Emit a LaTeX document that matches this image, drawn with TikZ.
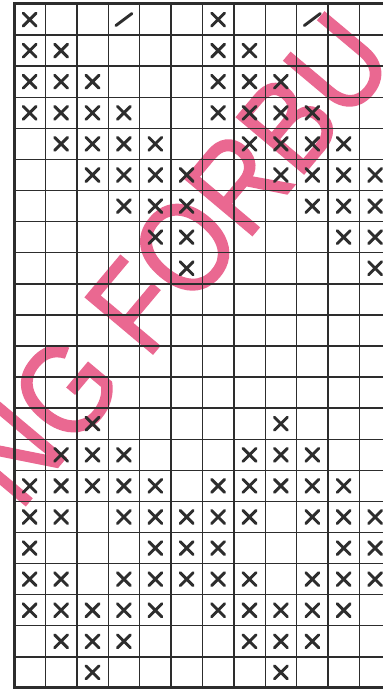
\documentclass[tikz,border=0pt]{standalone}
\usepackage{fontspec}
\newfontfamily\wmfont{Liberation Sans}[FakeStretch=0.87,FakeBold=1.2]
\definecolor{wmpink}{RGB}{234,104,145}
\definecolor{ink}{RGB}{45,45,45}
\begin{document}
\begin{tikzpicture}[x=1pt,y=1pt,
  gridline/.style={draw=ink, line width=1.4pt},
  border/.style={draw=ink, line width=3pt, line cap=rect},
  xmark/.style={draw=ink, line width=2.9pt, line cap=round},
  slashmark/.style={draw=ink, line width=2.9pt, line cap=round},
  watermark/.style={text=wmpink, font=\wmfont\fontsize{128}{128}\selectfont, rotate=50, inner sep=0pt}]
\useasboundingbox (0,0) rectangle (383,692);
\fill[white] (0,0) rectangle (383,692);
\begin{scope}
  \clip (0,0) rectangle (383,692);
  \node[watermark] (wm) at (175,433) {NG FORBU};
\end{scope}
\begin{scope}[shift={(14pt,688pt)}, x=31.4pt, y=-31.09pt]
  \clip (-1,-1) rectangle (11.75,23);
  \foreach \i in {1,...,11} \draw[gridline] (\i,0) -- (\i,22);
  \foreach \j in {1,...,21} \draw[gridline] (0,\j) -- (12,\j);
  \draw[border] (12,0) -- (0,0) -- (0,22) -- (12,22);
  % X marks: column/row
  \foreach \c/\r in {0/0,6/0,
      0/1,1/1,6/1,7/1,
      0/2,1/2,2/2,6/2,7/2,8/2,
      0/3,1/3,2/3,3/3,6/3,7/3,8/3,9/3,
      1/4,2/4,3/4,4/4,7/4,8/4,9/4,10/4,
      2/5,3/5,4/5,5/5,8/5,9/5,10/5,11/5,
      3/6,4/6,5/6,9/6,10/6,11/6,
      4/7,5/7,10/7,11/7,
      5/8,11/8,
      2/13,8/13,
      1/14,2/14,3/14,7/14,8/14,9/14,
      0/15,1/15,2/15,3/15,4/15,6/15,7/15,8/15,9/15,10/15,
      0/16,1/16,3/16,4/16,5/16,6/16,7/16,9/16,10/16,11/16,
      0/17,4/17,5/17,6/17,10/17,11/17,
      0/18,1/18,3/18,4/18,5/18,6/18,7/18,9/18,10/18,11/18,
      0/19,1/19,2/19,3/19,4/19,6/19,7/19,8/19,9/19,10/19,
      1/20,2/20,3/20,7/20,8/20,9/20,
      2/21,8/21}
    \draw[xmark, shift={(\c+0.5,\r+0.5)}] (-6.5pt,-6.5pt) -- (6.5pt,6.5pt) (-6.5pt,6.5pt) -- (6.5pt,-6.5pt);
  \foreach \c in {3,9}
    \draw[slashmark, shift={(\c+0.5,0.5)}] (-8pt,-6pt) -- (8pt,6pt);
\end{scope}
\end{tikzpicture}
\end{document}
